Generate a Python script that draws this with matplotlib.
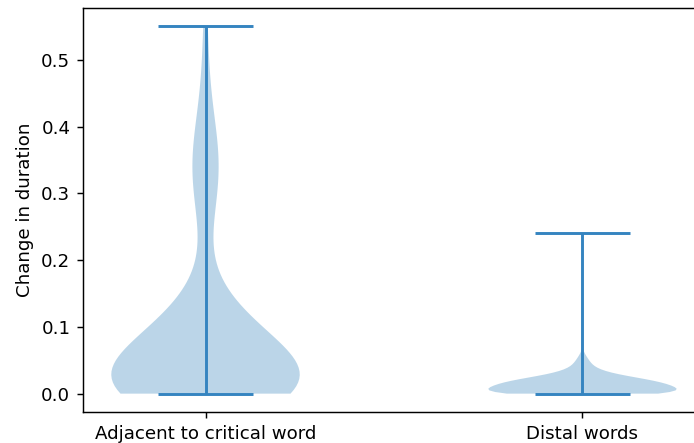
import numpy as np
import matplotlib
matplotlib.use("Agg")
import matplotlib.pyplot as plt

# Data (sample values with their counts)
categories = ["Adjacent to critical word", "Distal words"]

adjacent_values = [0.00, 0.02, 0.04, 0.06, 0.08, 0.10, 0.12, 0.14, 0.16, 0.18,
                   0.24, 0.28, 0.31, 0.34, 0.37, 0.40, 0.44, 0.48, 0.55]
adjacent_counts = [30, 12, 10, 9, 8, 6, 3, 2, 1, 1,
                   1, 2, 2, 3, 2, 2, 1, 1, 1]

distal_values = [0.000, 0.005, 0.010, 0.015, 0.020, 0.025, 0.030, 0.035,
                 0.040, 0.045, 0.050, 0.055, 0.060, 0.240]
distal_counts = [60, 44, 42, 40, 34, 22, 13, 8, 5, 4, 3, 2, 1, 1]

adjacent = np.repeat(adjacent_values, adjacent_counts)
distal = np.repeat(distal_values, distal_counts)

W, H, DPI = 694, 443, 131
fig = plt.figure(figsize=(W / DPI, H / DPI), dpi=DPI)
ax = fig.add_axes([83 / W, 31 / H, 622 / W, 404 / H])

line_color = "#3584c0"
parts = ax.violinplot([adjacent, distal], positions=[1, 2])
for body in parts["bodies"]:
    body.set_facecolor("#1f77b4")
    body.set_edgecolor("none")
    body.set_linewidth(0)
    body.set_alpha(0.3)
for key in ("cmaxes", "cmins", "cbars"):
    parts[key].set_color(line_color)
    parts[key].set_linewidth(1.6)

ax.set_xticks([1, 2])
ax.set_xticklabels(categories)
ax.set_ylabel("Change in duration")

fig.savefig("out.png", dpi=DPI)
